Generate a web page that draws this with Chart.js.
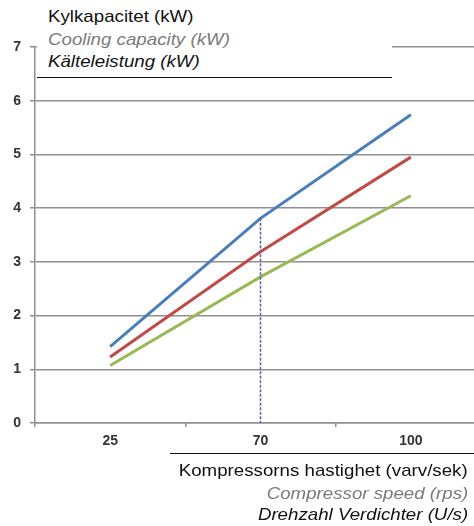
<!DOCTYPE html>
<html lang="sv">
<head>
    <meta charset="UTF-8">
    <title>Kylkapacitet</title>
    <script src="https://cdn.jsdelivr.net/npm/chart.js@4"></script>
    <style>
        body {
            margin: 0;
            padding: 0;
            background: #ffffff;
            overflow: hidden;
            font-family: 'Liberation Sans', Arial, sans-serif;
        }
        .wrap {
            position: relative;
            width: 474px;
            height: 526px;
            overflow: hidden;
        }
        .chart-box {
            position: absolute;
            left: 0;
            top: 0;
            width: 490px;
            height: 526px;
        }
        /* Rubrik uppe till vänster */
        .title-box {
            position: absolute;
            left: 37px;
            top: 0;
            width: 355px;
            height: 77px;
            background: #ffffff;
            border-bottom: 1.5px solid #111;
        }
        .axis-box {
            position: absolute;
            left: 170px;
            top: 453px;
            width: 304px;
            height: 73px;
            border-top: 1.5px solid #111;
        }
        .t {
            position: absolute;
            font-size: 17px;
            white-space: nowrap;
            transform: scaleX(1.1);
        }
        .title-box .t { transform-origin: left center; }
        .axis-box .t { transform-origin: right center; }
        .gray { color: #7a7a7a; font-style: italic; }
        .it { font-style: italic; color: #111; }
    </style>
</head>
<body>
<div class="wrap">
    <div class="chart-box">
        <canvas id="chart" width="490" height="526"></canvas>
    </div>
    <div class="title-box">
        <div class="t" style="left:11px; top:7px; color:#111;">Kylkapacitet (kW)</div>
        <div class="t gray" style="left:11px; top:30px;">Cooling capacity (kW)</div>
        <div class="t it" style="left:11px; top:52px;">Kälteleistung (kW)</div>
    </div>
    <div class="axis-box">
        <div class="t" style="right:6px; top:7px; color:#111;">Kompressorns hastighet (varv/sek)</div>
        <div class="t gray" style="right:6px; top:30px;">Compressor speed (rps)</div>
        <div class="t it" style="right:6px; top:51px;">Drehzahl Verdichter (U/s)</div>
    </div>
</div>

<script>
    // Data
    const speeds = ['25', '70', '100'];
    const blueSeries = [1.42, 3.81, 5.74];
    const redSeries = [1.23, 3.19, 4.95];
    const greenSeries = [1.07, 2.72, 4.23];
    const yTicks = [0, 1, 2, 3, 4, 5, 6, 7];
    const markSpeed = '70';

    const gridColor = '#8f8f8f';
    const tickFont = { family: 'Liberation Sans', size: 14, weight: 'bold' };

    // Streckad lodlinje vid 70 varv/sek ned från blå kurvan
    const markerLine = {
        id: 'markerLine',
        afterDatasetsDraw(chart) {
            const x = chart.scales.x;
            const y = chart.scales.y;
            const idx = speeds.indexOf(markSpeed);
            const px = x.getPixelForValue(idx);
            const top = y.getPixelForValue(blueSeries[idx]);
            const bottom = y.getPixelForValue(0);
            const ctx = chart.ctx;
            ctx.save();
            ctx.strokeStyle = '#5563a3';
            ctx.lineWidth = 1.5;
            ctx.setLineDash([3, 1.5]);
            ctx.beginPath();
            ctx.moveTo(px, top);
            ctx.lineTo(px, bottom);
            ctx.stroke();
            ctx.restore();
        }
    };

    const ctx = document.getElementById('chart').getContext('2d');
    const chart = new Chart(ctx, {
        type: 'line',
        data: {
            labels: speeds,
            datasets: [
                { data: blueSeries, borderColor: '#4a7ebb', borderWidth: 3, pointRadius: 0, tension: 0 },
                { data: redSeries, borderColor: '#be4b48', borderWidth: 3, pointRadius: 0, tension: 0 },
                { data: greenSeries, borderColor: '#98b954', borderWidth: 3, pointRadius: 0, tension: 0 }
            ]
        },
        options: {
            responsive: false,
            animation: false,
            layout: { padding: { top: 47, right: 4, left: 0, bottom: 0 } },
            plugins: {
                legend: { display: false },
                tooltip: { enabled: false }
            },
            scales: {
                x: {
                    type: 'category',
                    offset: true,
                    grid: {
                        offset: true,
                        drawOnChartArea: false,
                        drawTicks: true,
                        tickLength: 4,
                        color: gridColor,
                        lineWidth: 1.5
                    },
                    border: { color: gridColor, width: 1.5 },
                    ticks: { color: '#333', font: tickFont, padding: 6, maxRotation: 0 },
                    afterFit(scale) { scale.height = 103; }
                },
                y: {
                    min: 0,
                    max: 7,
                    afterBuildTicks(scale) { scale.ticks = yTicks.map(v => ({ value: v })); },
                    grid: {
                        color: gridColor,
                        lineWidth: 1.5,
                        drawTicks: true,
                        tickLength: 5
                    },
                    border: { color: gridColor, width: 1.5 },
                    ticks: { color: '#333', font: tickFont, padding: 9 },
                    afterFit(scale) { scale.width = 35; }
                }
            }
        },
        plugins: [markerLine]
    });
</script>
</body>
</html>
